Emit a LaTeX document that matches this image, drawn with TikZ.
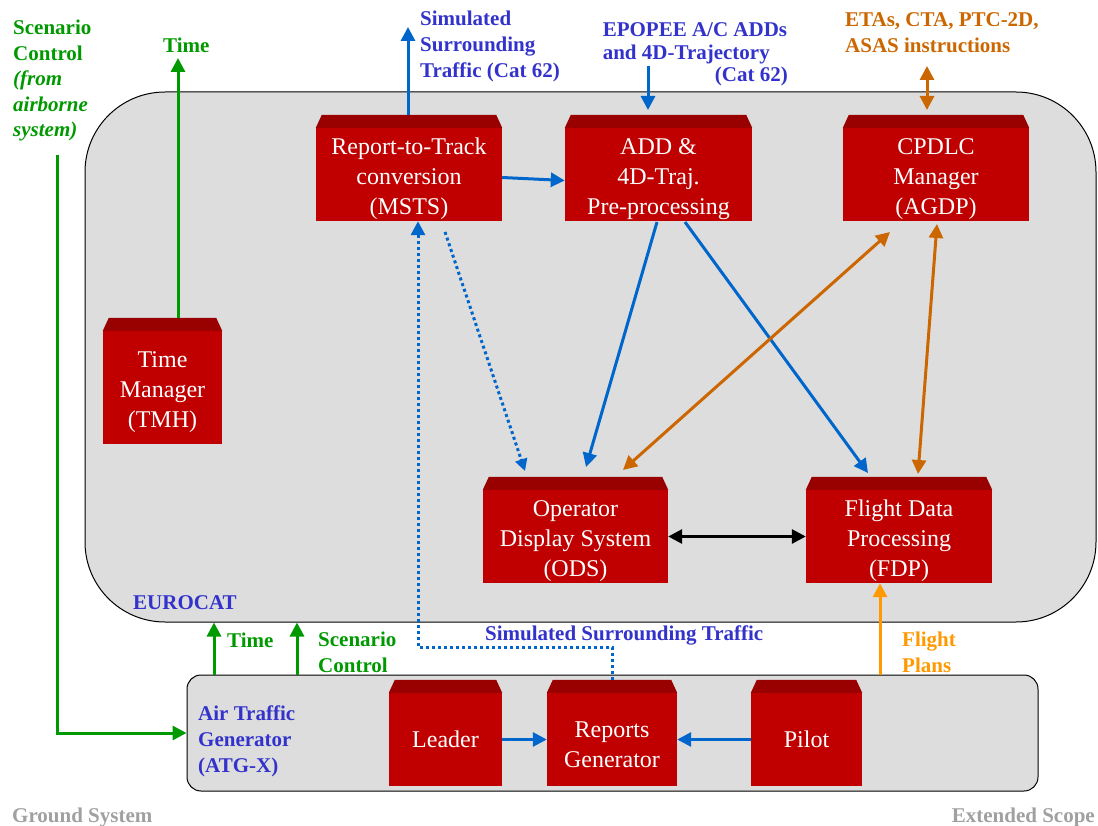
\documentclass[tikz,border=0pt]{standalone}
\usepackage{fontspec}
\setmainfont{Liberation Serif}
\usetikzlibrary{arrows.meta,calc}
\definecolor{boxred}{HTML}{C00000}
\definecolor{boxtop}{HTML}{990000}
\definecolor{arrblue}{HTML}{0066CC}
\definecolor{lblblue}{HTML}{3333CC}
\definecolor{grn}{HTML}{009900}
\definecolor{orng}{HTML}{CC6600}
\definecolor{fplan}{HTML}{FF9900}
\definecolor{bggray}{HTML}{DDDDDD}
\definecolor{txtgray}{HTML}{A0A0A0}
\newcommand{\tpstrut}{\rule{0pt}{26pt}}
\tikzset{
  rbox/.style={fill=boxred, text=white, font=\fontsize{24}{30}\selectfont, align=center, inner sep=0pt, minimum height=93pt},
  lbl/.style={font=\bfseries\fontsize{21}{26}\selectfont, inner sep=0pt, align=left, anchor=base west},
  oarr/.style={line width=3pt, -{Triangle[length=14pt,width=14pt]}},
  darr/.style={line width=3pt, {Triangle[length=14pt,width=14pt]}-{Triangle[length=14pt,width=14pt]}},
  container/.style={draw=black, line width=1pt, fill=bggray},
}
\begin{document}
\begin{tikzpicture}[x=1pt,y=-1pt]
\useasboundingbox (0,0) rectangle (1098,826);
% containers
\node[container, rounded corners=80pt, minimum width=1011pt, minimum height=530pt, inner sep=0pt] (euro) at (590.5,357) {};
\node[container, rounded corners=14pt, minimum width=851pt, minimum height=116pt, inner sep=0pt] (atg) at (612.5,733) {};
% red boxes
\node[rbox, minimum width=186pt] (msts) at (409,174.5) {\tpstrut Report-to-Track\\conversion\\(MSTS)};
\node[rbox, minimum width=187pt] (add) at (658.5,174.5) {\tpstrut ADD \&\\4D-Traj.\\Pre-processing};
\node[rbox, minimum width=186pt] (cpdlc) at (936,174.5) {\tpstrut CPDLC\\Manager\\(AGDP)};
\node[rbox, minimum width=119pt, minimum height=113pt] (tmh) at (162.5,387.5) {\tpstrut Time\\Manager\\(TMH)};
\node[rbox, minimum width=185pt] (ods) at (575.5,536.5) {\tpstrut Operator\\Display System\\(ODS)};
\node[rbox, minimum width=186pt] (fdp) at (899,536.5) {\tpstrut Flight Data\\Processing\\(FDP)};
\node[rbox, minimum width=113pt] (leader) at (445.5,739.5) {Leader};
\node[rbox, minimum width=130pt] (rgen) at (612,739.5) {\tpstrut Reports\\Generator};
\node[rbox, minimum width=111pt] (pilot) at (806.5,739.5) {Pilot};
\foreach \n in {msts,add,cpdlc,tmh,ods,fdp,leader,rgen,pilot}
  \fill[boxtop] (\n.north west) -- ([shift={(6pt,13pt)}]\n.north west) -- ([shift={(-6pt,13pt)}]\n.north east) -- (\n.north east) -- cycle;
% labels (base anchor = last line)
\node[lbl, text=grn, font=\bfseries\fontsize{21}{25.5}\selectfont] (scentop) at (13,137) {Scenario\\Control\\\textit{(from}\\\textit{airborne}\\\textit{system)}};
\node[lbl, text=grn] (timetop) at (163,53) {Time};
\node[lbl, text=lblblue] (simtop) at (420,78) {Simulated\\Surrounding\\Traffic (Cat 62)};
\node[lbl, text=lblblue, font=\bfseries\fontsize{21}{22.5}\selectfont, align=right, anchor=base east] (epopee) at (788,82) {\makebox[185pt][l]{EPOPEE A/C ADDs}\\\makebox[185pt][l]{and 4D-Trajectory}\\(Cat 62)};
\node[lbl, text=orng] (etas) at (845,53) {ETAs, CTA, PTC-2D,\\ASAS instructions};
\node[lbl, text=lblblue] (eurolbl) at (133,609) {EUROCAT};
\node[lbl, text=grn] (timebot) at (227,647) {Time};
\node[lbl, text=grn] (scenbot) at (318,672) {Scenario\\Control};
\node[lbl, text=lblblue] (simbot) at (485,640) {Simulated Surrounding Traffic};
\node[lbl, text=fplan] (fplbl) at (902,672) {Flight\\Plans};
\node[lbl, text=lblblue] (atglbl) at (198,772) {Air Traffic\\Generator\\(ATG-X)};
\node[lbl, text=txtgray] (ground) at (12,822) {Ground System};
\node[lbl, text=txtgray, anchor=base east] (ext) at (1095,822) {Extended Scope};
% coordinates
\coordinate (timetip) at (178,58);
\coordinate (scstart) at (57,155);
\coordinate (simtip) at (408,27);
\coordinate (epstart) at (648,66);
\coordinate (etatip) at (927,66);
\coordinate (dotx) at (418,647);
\coordinate (tb) at (214,0);
\coordinate (sb) at (297,0);
\coordinate (fb) at (880,0);
% green / flight plans
\draw[oarr, grn] ([shift={(15.5pt,13pt)}]tmh.north) -- (timetip);
\draw[oarr, grn] (scstart) |- (atg.west);
\draw[oarr, grn] (tb |- atg.north) -- (tb |- euro.south);
\draw[oarr, grn] (sb |- atg.north) -- (sb |- euro.south);
\draw[oarr, fplan] (fb |- atg.north) -- (fb |- fdp.south);
% blue
\draw[oarr, arrblue] ([shift={(-1pt,13pt)}]msts.north) -- (simtip);
\draw[oarr, arrblue] (epstart) -- (648,110);
\draw[oarr, arrblue] ([yshift=-3pt]msts.east) -- ([yshift=-6pt]add.west);
\draw[oarr, arrblue] (657,222) -- (586,467);
\draw[oarr, arrblue] (685,222) -- (868,473);
\draw[line width=3pt, arrblue, dash pattern=on 3pt off 3pt] (445,232) -- (522,462);
\draw[-{Triangle[length=12pt,width=12pt]}, line width=3pt, arrblue] (521,459) -- (525,471);
\draw[line width=3pt, arrblue, dash pattern=on 3pt off 3pt, -{Triangle[length=14pt,width=14pt]}] ([yshift=13pt]rgen.north) |- (dotx) -- (dotx |- msts.south);
\draw[oarr, arrblue] (leader.east) -- (rgen.west);
\draw[oarr, arrblue] (pilot.west) -- (rgen.east);
% orange
\draw[darr, orng] (etatip) -- (927,110);
\draw[darr, orng] (890,232) -- (623,470);
\draw[darr, orng] (937,224) -- (918,474);
% black
\draw[darr, black] (ods.east) -- (fdp.west);
\end{tikzpicture}
\end{document}
